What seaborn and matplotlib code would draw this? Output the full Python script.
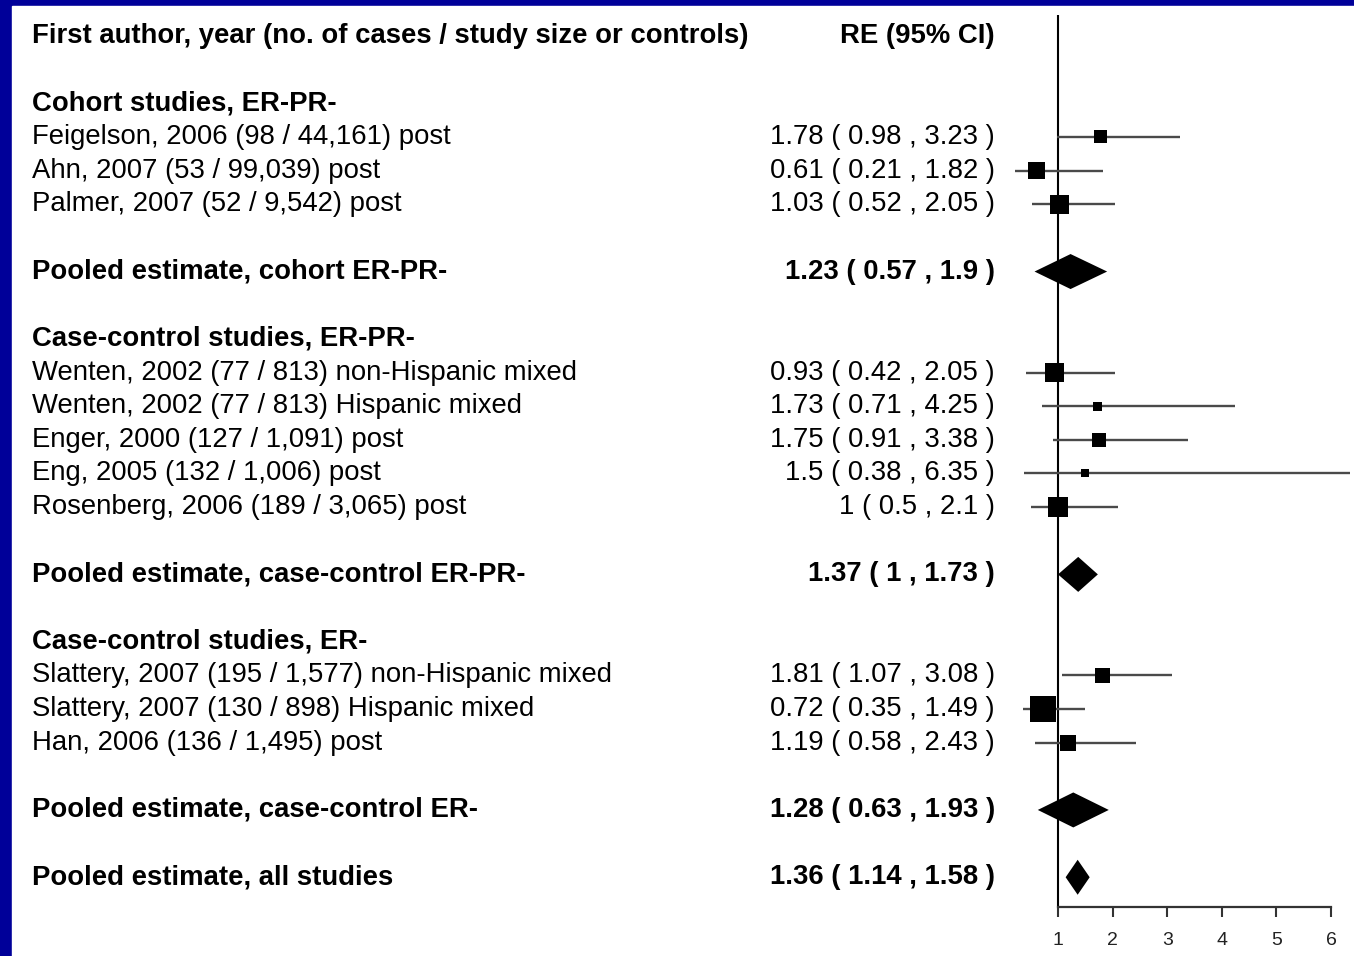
import matplotlib
matplotlib.use("Agg")
import matplotlib.pyplot as plt
import matplotlib.transforms as mtransforms
from matplotlib.patches import Rectangle
import seaborn as sns
import pandas as pd

# study rows
study_labels = [
    "Feigelson, 2006 (98 / 44,161) post",
    "Ahn, 2007 (53 / 99,039) post",
    "Palmer, 2007 (52 / 9,542) post",
    "Wenten, 2002 (77 / 813) non-Hispanic mixed",
    "Wenten, 2002 (77 / 813) Hispanic mixed",
    "Enger, 2000 (127 / 1,091) post",
    "Eng, 2005 (132 / 1,006) post",
    "Rosenberg, 2006 (189 / 3,065) post",
    "Slattery, 2007 (195 / 1,577) non-Hispanic mixed",
    "Slattery, 2007 (130 / 898) Hispanic mixed",
    "Han, 2006 (136 / 1,495) post",
]
study_rows = [3, 4, 5, 10, 11, 12, 13, 14, 19, 20, 21]
study_est = [1.78, 0.61, 1.03, 0.93, 1.73, 1.75, 1.5, 1, 1.81, 0.72, 1.19]
study_lo = [0.98, 0.21, 0.52, 0.42, 0.71, 0.91, 0.38, 0.5, 1.07, 0.35, 0.58]
study_hi = [3.23, 1.82, 2.05, 2.05, 4.25, 3.38, 6.35, 2.1, 3.08, 1.49, 2.43]
study_weight = [13, 17, 19, 19, 9, 14, 8, 20, 15, 26, 16]  # relative box size

# pooled rows
pooled_labels = [
    "Pooled estimate, cohort ER-PR-",
    "Pooled estimate, case-control ER-PR-",
    "Pooled estimate, case-control ER-",
    "Pooled estimate, all studies",
]
pooled_rows = [7, 16, 23, 25]
pooled_est = [1.23, 1.37, 1.28, 1.36]
pooled_lo = [0.57, 1, 0.63, 1.14]
pooled_hi = [1.9, 1.73, 1.93, 1.58]

# group headings
group_labels = ["Cohort studies, ER-PR-", "Case-control studies, ER-PR-",
                "Case-control studies, ER-"]
group_rows = [2, 9, 18]

x_ticks = [1, 2, 3, 4, 5, 6]

W, H = 1354, 956
ROW0, ROWH = 36, 33.65
PX_PER_UNIT = 54.6
X_ONE = 1058

sns.set_style("white")
plt.rcParams["font.family"] = ["Liberation Sans", "DejaVu Sans"]
plt.rcParams["text.color"] = "black"

fig = plt.figure(figsize=(W / 100, H / 100), dpi=100, facecolor="#000099")
fig.patches.append(Rectangle((12 / W, 0), 1 - 12 / W, (H - 6) / H,
                             transform=fig.transFigure, color="white", zorder=-10))

ax_left_px, ax_bot_px = 1005, 907
ax = fig.add_axes([ax_left_px / W, (H - ax_bot_px) / H,
                   1 - ax_left_px / W, (ax_bot_px - 6) / H])
ax.patch.set_alpha(0)
ax.set_xlim(1 - (X_ONE - ax_left_px) / PX_PER_UNIT, 1 + (W - X_ONE) / PX_PER_UNIT)
y_bottom = (ax_bot_px - ROW0) / ROWH
ax.set_ylim(y_bottom, (6 - ROW0) / ROWH)

# reference line
ax.vlines(1, y_bottom, (15 - ROW0) / ROWH, color="black", lw=1.5, zorder=2)

# confidence intervals
ax.hlines(study_rows, study_lo, study_hi, color="#4a4a4a", lw=1.7, zorder=3)

df = pd.DataFrame({"est": study_est, "row": study_rows,
                   "s": [(w * 0.72) ** 2 for w in study_weight]})
sns.scatterplot(data=df, x="est", y="row", s=df["s"].values, marker="s",
                color="black", linewidth=0, ax=ax, legend=False, zorder=4)

# pooled diamonds
h = 0.52
for r, e, lo, hi in zip(pooled_rows, pooled_est, pooled_lo, pooled_hi):
    ax.fill([lo, e, hi, e], [r, r - h, r, r + h], color="black", lw=0, zorder=4)

# axis styling
for s in ["top", "right", "left"]:
    ax.spines[s].set_visible(False)
ax.spines["bottom"].set_bounds(1, 6)
ax.spines["bottom"].set_linewidth(1.6)
ax.spines["bottom"].set_color("#333333")
ax.set_xticks(x_ticks)
ax.set_xticklabels([str(t) for t in x_ticks])
ax.tick_params(axis="x", direction="out", length=7, width=1.5, color="#333333",
               pad=11, labelsize=14, labelcolor="#222222", bottom=True)
ax.set_yticks([])
ax.set_xlabel("")
ax.set_ylabel("")

# text columns
trans = mtransforms.blended_transform_factory(fig.transFigure, ax.transData)
xl, xr = 32 / W, 995 / W
fs = 19.8

ax.text(xl, 0, "First author, year (no. of cases / study size or controls)",
        transform=trans, ha="left", va="center", fontsize=fs, fontweight="bold")
ax.text(xr, 0, "RE (95% CI)", transform=trans, ha="right", va="center",
        fontsize=fs, fontweight="bold")

for lab, r in zip(group_labels, group_rows):
    ax.text(xl, r, lab, transform=trans, ha="left", va="center",
            fontsize=fs, fontweight="bold")

for lab, r, e, lo, hi in zip(study_labels, study_rows, study_est, study_lo, study_hi):
    ax.text(xl, r, lab, transform=trans, ha="left", va="center", fontsize=fs)
    ax.text(xr, r, f"{e:g} ( {lo:g} , {hi:g} )", transform=trans,
            ha="right", va="center", fontsize=fs)

for lab, r, e, lo, hi in zip(pooled_labels, pooled_rows, pooled_est, pooled_lo, pooled_hi):
    ax.text(xl, r, lab, transform=trans, ha="left", va="center",
            fontsize=fs, fontweight="bold")
    ax.text(xr, r, f"{e:g} ( {lo:g} , {hi:g} )", transform=trans,
            ha="right", va="center", fontsize=fs, fontweight="bold")

fig.savefig("out.png", dpi=100, facecolor=fig.get_facecolor())
